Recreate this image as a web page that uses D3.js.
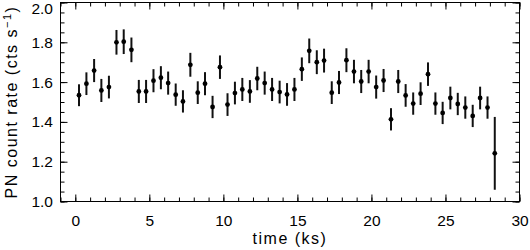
<!DOCTYPE html>
<html>
<head>
<meta charset="utf-8">
<script src="https://cdn.jsdelivr.net/npm/d3@7"></script>
<style>
  body { margin: 0; background: #fff; }
  text { font-family: "Liberation Sans", Arial, sans-serif; }
</style>
</head>
<body>
<div id="chart"></div>
<script>
// light curve, 0.5 ks bins
const times = [0.25, 0.75, 1.27, 1.76, 2.27, 2.78, 3.27, 3.79, 4.29, 4.78, 5.28, 5.78, 6.27, 6.78,
  7.27, 7.77, 8.27, 8.76, 9.27, 9.77, 10.28, 10.78, 11.28, 11.79, 12.29, 12.79, 13.29, 13.8,
  14.3, 14.8, 15.3, 15.8, 16.31, 16.8, 17.32, 17.81, 18.31, 18.82, 19.31, 19.81, 20.32, 20.82,
  21.32, 21.81, 22.31, 22.82, 23.32, 23.82, 24.32, 24.81, 25.33, 25.83, 26.34, 26.84, 27.34,
  27.84, 28.33];
const rates = [1.534, 1.592, 1.658, 1.558, 1.575, 1.80, 1.803, 1.762, 1.553, 1.553, 1.607, 1.622, 1.595, 1.537,
  1.503, 1.687, 1.547, 1.592, 1.475, 1.675, 1.487, 1.545, 1.563, 1.553, 1.618, 1.595, 1.563, 1.55,
  1.538, 1.563, 1.665, 1.757, 1.70, 1.708, 1.547, 1.598, 1.71, 1.653, 1.603, 1.653, 1.575, 1.608,
  1.413, 1.603, 1.533, 1.492, 1.542, 1.64, 1.492, 1.445, 1.52, 1.49, 1.472, 1.43, 1.52,
  1.472, 1.242];
const errors = [0.055, 0.057, 0.058, 0.058, 0.057, 0.062, 0.062, 0.062, 0.058, 0.058, 0.058, 0.058, 0.058, 0.056,
  0.056, 0.06, 0.057, 0.058, 0.056, 0.059, 0.057, 0.057, 0.058, 0.057, 0.059, 0.058, 0.058, 0.057,
  0.057, 0.058, 0.059, 0.062, 0.06, 0.06, 0.057, 0.058, 0.06, 0.059, 0.058, 0.059, 0.058, 0.058,
  0.056, 0.058, 0.057, 0.056, 0.057, 0.059, 0.056, 0.056, 0.057, 0.056, 0.056, 0.056, 0.057,
  0.056, 0.183];

const xTicks = [0, 5, 10, 15, 20, 25, 30];
const yTicks = [1.0, 1.2, 1.4, 1.6, 1.8, 2.0];

const width = 530;
const height = 250;
const plotLeft = 60.5, plotRight = 519.5, plotTop = 2.5, plotBottom = 201.5;

const svg = d3.select("#chart")
  .append("svg")
  .attr("width", width)
  .attr("height", height);

const x = d3.scaleLinear().domain([-1, 30]).range([plotLeft, plotRight]);
const y = d3.scaleLinear().domain([1.0, 2.0]).range([plotBottom, plotTop]);

const xMinor = d3.range(-1, 30.01, 1);
const yMinor = d3.range(1.0, 2.001, 0.05);

// axes: ticks inward on all four sides
const tickStyle = g => {
  g.select(".domain").remove();
  g.selectAll(".tick line").attr("stroke", "#000").attr("stroke-width", 1);
};

svg.append("g")
  .attr("transform", `translate(0,${plotBottom})`)
  .call(d3.axisBottom(x).tickValues(xMinor).tickSize(-4).tickFormat(""))
  .call(tickStyle);
svg.append("g")
  .attr("transform", `translate(0,${plotBottom})`)
  .call(d3.axisBottom(x).tickValues(xTicks).tickSize(-7).tickPadding(13).tickFormat(d3.format("d")))
  .call(tickStyle)
  .call(g => g.selectAll("text").attr("font-size", 15.5).attr("fill", "#000").attr("font-family", "Liberation Sans"));
svg.append("g")
  .attr("transform", `translate(0,${plotTop})`)
  .call(d3.axisTop(x).tickValues(xMinor).tickSize(-4).tickFormat(""))
  .call(tickStyle);
svg.append("g")
  .attr("transform", `translate(0,${plotTop})`)
  .call(d3.axisTop(x).tickValues(xTicks).tickSize(-7).tickFormat(""))
  .call(tickStyle);

svg.append("g")
  .attr("transform", `translate(${plotLeft},0)`)
  .call(d3.axisLeft(y).tickValues(yMinor).tickSize(-4).tickFormat(""))
  .call(tickStyle);
svg.append("g")
  .attr("transform", `translate(${plotLeft},0)`)
  .call(d3.axisLeft(y).tickValues(yTicks).tickSize(-7).tickPadding(7.5).tickFormat(d3.format(".1f")))
  .call(tickStyle)
  .call(g => g.selectAll("text").attr("font-size", 15.5).attr("fill", "#000").attr("font-family", "Liberation Sans"))
  .call(g => g.selectAll(".tick text").filter(d => d === 2.0).attr("dy", "0.7em"));
svg.append("g")
  .attr("transform", `translate(${plotRight},0)`)
  .call(d3.axisRight(y).tickValues(yMinor).tickSize(-4).tickFormat(""))
  .call(tickStyle);
svg.append("g")
  .attr("transform", `translate(${plotRight},0)`)
  .call(d3.axisRight(y).tickValues(yTicks).tickSize(-7).tickFormat(""))
  .call(tickStyle);

// frame
svg.append("rect")
  .attr("x", plotLeft)
  .attr("y", plotTop)
  .attr("width", plotRight - plotLeft)
  .attr("height", plotBottom - plotTop)
  .attr("fill", "none")
  .attr("stroke", "#000")
  .attr("stroke-width", 1);

// error bars
svg.append("g").selectAll("line")
  .data(times)
  .join("line")
  .attr("x1", d => x(d))
  .attr("x2", d => x(d))
  .attr("y1", (d, i) => y(rates[i] - errors[i]))
  .attr("y2", (d, i) => y(rates[i] + errors[i]))
  .attr("stroke", "#111")
  .attr("stroke-width", 2);

// points
svg.append("g").selectAll("circle")
  .data(times)
  .join("circle")
  .attr("cx", d => x(d))
  .attr("cy", (d, i) => y(rates[i]))
  .attr("r", 2.4)
  .attr("fill", "#000");

// axis titles
svg.append("text")
  .attr("x", (plotLeft + plotRight) / 2)
  .attr("y", 244)
  .attr("text-anchor", "middle")
  .attr("font-size", 16)
  .attr("letter-spacing", 1.5)
  .text("time (ks)");

svg.append("text")
  .attr("transform", `translate(17,${(plotTop + plotBottom) / 2}) rotate(-90)`)
  .attr("text-anchor", "middle")
  .attr("font-size", 16)
  .attr("letter-spacing", 1.5)
  .html('PN count rate (cts s<tspan dy="-6" font-size="11">−1</tspan><tspan dy="6">)</tspan>');
</script>
</body>
</html>
